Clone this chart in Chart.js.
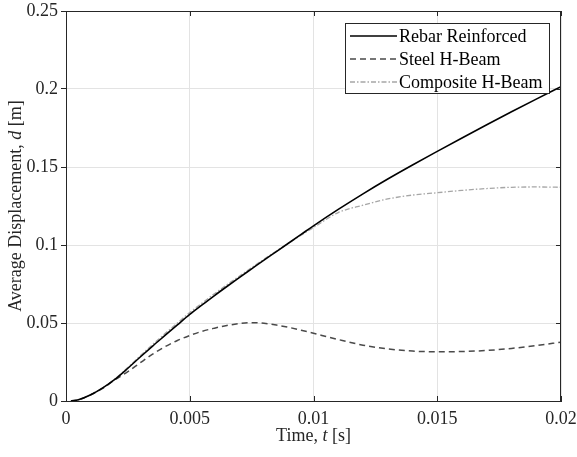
<!DOCTYPE html>
<html>
<head>
<meta charset="utf-8">
<script src="https://cdn.jsdelivr.net/npm/chart.js@4.4.0/dist/chart.umd.min.js"></script>
<style>
html,body{margin:0;padding:0;background:#fff;}
#wrap{width:577px;height:457px;}
</style>
</head>
<body>
<div id="wrap"><canvas id="dispChart" width="577" height="457"></canvas></div>
<script>
// time [s]
const time = [0.0002,0.0005,0.001,0.0015,0.002,0.0025,0.003,0.0035,0.004,0.0045,0.005,
    0.0055,0.006,0.0065,0.007,0.0075,0.008,0.0085,0.009,0.0095,0.010,
    0.011,0.012,0.013,0.014,0.015,0.016,0.017,0.018,0.019,0.020];

// average displacement [m]
const rebar = [0,0.0008,0.0040,0.0086,0.0142,0.0210,0.0282,0.0352,0.0420,0.0488,0.0555,
    0.0616,0.0676,0.0734,0.0791,0.0847,0.0903,0.0958,0.1013,0.1068,0.1123,
    0.1228,0.1328,0.1423,0.1513,0.1600,0.1686,0.1771,0.1854,0.1935,0.2015];

const steel = [0,0.0008,0.0040,0.0083,0.0138,0.0188,0.0245,0.0300,0.0348,0.0388,0.0420,
    0.0447,0.0467,0.0484,0.0496,0.0502,0.0498,0.0487,0.0472,0.0454,0.0434,
    0.0394,0.0358,0.0334,0.0320,0.0316,0.0317,0.0324,0.0337,0.0355,0.0377];

const composite = [0,0.0008,0.0040,0.0086,0.0145,0.0215,0.0290,0.0362,0.0432,0.0500,0.0567,
    0.0628,0.0688,0.0745,0.0800,0.0855,0.0909,0.0962,0.1013,0.1063,0.1112,
    0.1208,0.1255,0.1295,0.1320,0.1335,0.1350,0.1362,0.1370,0.1372,0.1370];

const seriesLabels = ["Rebar Reinforced","Steel H-Beam","Composite H-Beam"];

const xTicks = [0,0.005,0.01,0.015,0.02];
const yTicks = [0,0.05,0.1,0.15,0.2,0.25];

const FONT = "'Liberation Serif','Times New Roman',serif";

function toPoints(xs, ys){
    return xs.map((x,i)=>({x:x, y:ys[i]}));
}

function fmt(v){
    return String(parseFloat(v.toFixed(4)));
}

// frame, inner ticks, axis titles and legend box
const matlabAxes = {
    id:"matlabAxes",
    afterDraw(chart){
        const ctx = chart.ctx;
        const a = chart.chartArea;
        const xs = chart.scales.x;
        const ys = chart.scales.y;

        ctx.save();

        // top and right edges
        ctx.strokeStyle = "#262626";
        ctx.lineWidth = 1;
        ctx.beginPath();
        ctx.moveTo(a.left, a.top+0.5);
        ctx.lineTo(a.right, a.top+0.5);
        ctx.moveTo(a.right-0.5, a.top);
        ctx.lineTo(a.right-0.5, a.bottom);
        ctx.stroke();

        // inner ticks
        ctx.beginPath();
        xTicks.forEach(v=>{
            const px = Math.round(xs.getPixelForValue(v))+0.5;
            ctx.moveTo(px, a.bottom); ctx.lineTo(px, a.bottom-5);
            ctx.moveTo(px, a.top); ctx.lineTo(px, a.top+5);
        });
        yTicks.forEach(v=>{
            const py = Math.round(ys.getPixelForValue(v))+0.5;
            ctx.moveTo(a.right, py); ctx.lineTo(a.right-5, py);
        });
        ctx.stroke();

        // axis titles (with italic symbols)
        ctx.fillStyle = "#262626";
        ctx.textBaseline = "alphabetic";
        const normal = "18px " + FONT;
        const italic = "italic 18px " + FONT;

        function drawParts(parts, cx, cy){
            let total = 0;
            parts.forEach(p=>{ ctx.font = p[1]; total += ctx.measureText(p[0]).width; });
            let x = cx - total/2;
            parts.forEach(p=>{
                ctx.font = p[1];
                ctx.fillText(p[0], x, cy);
                x += ctx.measureText(p[0]).width;
            });
        }

        drawParts([["Time, ",normal],["t",italic],[" [s]",normal]], (a.left+a.right)/2, 441);

        ctx.save();
        ctx.translate(21, (a.top+a.bottom)/2);
        ctx.rotate(-Math.PI/2);
        drawParts([["Average Displacement, ",normal],["d",italic],[" [m]",normal]], 0, 0);
        ctx.restore();

        // legend
        const bx = a.right - 216, by = a.top + 12, bw = 204, bh = 70;
        ctx.fillStyle = "#ffffff";
        ctx.fillRect(bx, by, bw, bh);
        ctx.strokeStyle = "#262626";
        ctx.lineWidth = 1;
        ctx.strokeRect(bx+0.5, by+0.5, bw, bh);

        chart.data.datasets.forEach((ds,i)=>{
            const yy = by + 13 + i*23;
            ctx.strokeStyle = ds.borderColor;
            ctx.lineWidth = ds.borderWidth;
            ctx.setLineDash(ds.borderDash || []);
            ctx.beginPath();
            ctx.moveTo(bx+5, yy);
            ctx.lineTo(bx+52, yy);
            ctx.stroke();
            ctx.setLineDash([]);
            ctx.fillStyle = "#000000";
            ctx.font = normal;
            ctx.textBaseline = "middle";
            ctx.fillText(ds.label, bx+54, yy+1);
        });

        ctx.restore();
    }
};

new Chart(document.getElementById("dispChart").getContext("2d"),{

    type:"line",

    data:{
        datasets:[
            {
                label:seriesLabels[0],
                data:toPoints(time,rebar),
                borderColor:"#000000",
                borderWidth:1.6,
                pointRadius:0,
                cubicInterpolationMode:"monotone"
            },
            {
                label:seriesLabels[1],
                data:toPoints(time,steel),
                borderColor:"#4a4a4a",
                borderWidth:1.5,
                borderDash:[6,4],
                pointRadius:0,
                cubicInterpolationMode:"monotone"
            },
            {
                label:seriesLabels[2],
                data:toPoints(time,composite),
                borderColor:"#a6a6a6",
                borderWidth:1.3,
                borderDash:[5,2,1.5,2],
                pointRadius:0,
                cubicInterpolationMode:"monotone"
            }
        ]
    },

    options:{
        responsive:false,
        animation:false,
        layout:{
            padding:{top:11,right:16,left:0,bottom:0}
        },
        plugins:{
            legend:{display:false},
            tooltip:{enabled:false}
        },
        scales:{
            x:{
                type:"linear",
                min:0,
                max:0.02,
                afterBuildTicks(scale){
                    scale.ticks = xTicks.map(v=>({value:v}));
                },
                afterFit(scale){
                    scale.height = 56;
                    scale.paddingLeft = 0;
                    scale.paddingRight = 0;
                },
                ticks:{
                    color:"#262626",
                    font:{family:FONT,size:18},
                    padding:7,
                    maxRotation:0,
                    autoSkip:false,
                    callback:v=>fmt(v)
                },
                grid:{
                    color:"#e3e3e3",
                    drawTicks:false
                },
                border:{color:"#262626",width:1}
            },
            y:{
                type:"linear",
                min:0,
                max:0.25,
                afterBuildTicks(scale){
                    scale.ticks = yTicks.map(v=>({value:v}));
                },
                afterFit(scale){
                    scale.width = 66;
                    scale.paddingTop = 0;
                    scale.paddingBottom = 0;
                },
                ticks:{
                    color:"#262626",
                    font:{family:FONT,size:18},
                    padding:3,
                    autoSkip:false,
                    callback:v=>fmt(v)
                },
                grid:{
                    color:"#e3e3e3",
                    tickLength:5,
                    tickColor:"#262626"
                },
                border:{color:"#262626",width:1}
            }
        }
    },

    plugins:[matlabAxes]

});
</script>
</body>
</html>
